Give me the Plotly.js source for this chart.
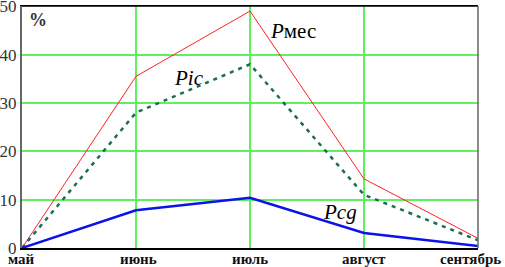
<!DOCTYPE html>
<html><head><meta charset="utf-8">
<script src="https://cdn.plot.ly/plotly-3.0.1.min.js"></script>
<style>body{margin:0}#c{width:505px;height:267px}</style>
</head><body><div id="c"></div>
<script>
const months = ['май','июнь','июль','август','сентябрь'];
const pMes = [0, 35.5, 49, 14.3, 2.0];
const pIc = [0, 28, 38, 11, 1.6];
const pCg = [0, 7.8, 10.4, 3.1, 0.4];
const yTicks = [0,10,20,30,40,50];

const SERIF = 'Liberation Serif';
const idx = months.map((m,i)=>i);
const traces = [
 {x: idx, y: pMes, mode:'lines', line:{color:'#ff2020', width:1}, name:'Рмес'},
 {x: idx, y: pIc, mode:'lines', line:{color:'#1a6e55', width:2.5, dash:'4px,5px'}, name:'Pic'},
 {x: idx, y: pCg, mode:'lines', line:{color:'#0a14e6', width:2.5}, name:'Pcg'}
];
const xShift = [-1, 2, 0, 0, -8];
const monthAnn = months.map((m,i)=>({x:i, xref:'x', yref:'paper', y:0, yanchor:'top', xanchor:'center',
  yshift:-1, xshift:xShift[i], showarrow:false, text:'<b>'+m+'</b>', font:{family:SERIF, size:15, color:'#111'}}));
const layout = {
 width:505, height:267, showlegend:false,
 font:{family:SERIF},
 margin:{l:22, r:27, t:6, b:19},
 paper_bgcolor:'#fff', plot_bgcolor:'#fff',
 xaxis:{range:[0,4], tickvals: idx, showticklabels:false, showgrid:true, gridcolor:'#5ef05e', gridwidth:2,
   zeroline:false, showline:true, linecolor:'#000', linewidth:1.5, mirror:true, ticks:''},
 yaxis:{range:[0,50.05], tickvals: yTicks, showgrid:true, gridcolor:'#5ef05e', gridwidth:2, zeroline:false,
   showline:true, linecolor:'#666', linewidth:2, ticks:'', mirror:false, ticklabeloverflow:'allow',
   tickfont:{family:SERIF, size:17, color:'#333'}},
 shapes:[
  {type:'line', xref:'paper', yref:'paper', x0:0, x1:1, y0:1, y1:1, line:{color:'#000', width:1.5}},
  {type:'line', xref:'paper', yref:'paper', x0:1, x1:1, y0:0, y1:1, line:{color:'#666', width:1.5}}
 ],
 annotations:[
  {xref:'paper', yref:'paper', x:0.012, y:1, yshift:-2, xanchor:'left', yanchor:'top', showarrow:false,
   text:'<b>%</b>', font:{family:SERIF, size:18, color:'#333'}},
  {x:2.16, y:44.8, xanchor:'left', yanchor:'middle', showarrow:false,
   text:'<i>P</i>мес', font:{family:SERIF, size:21, color:'#000'}},
  {x:1.32, y:35.2, xanchor:'left', yanchor:'middle', showarrow:false,
   text:'<i>Pic</i>', font:{family:SERIF, size:21, color:'#000'}},
  {x:2.62, y:7.4, xanchor:'left', yanchor:'middle', showarrow:false,
   text:'<i>Pcg</i>', font:{family:SERIF, size:21, color:'#000'}}
 ].concat(monthAnn)
};
Plotly.newPlot('c', traces, layout, {displayModeBar:false, staticPlot:true});
</script></body></html>
